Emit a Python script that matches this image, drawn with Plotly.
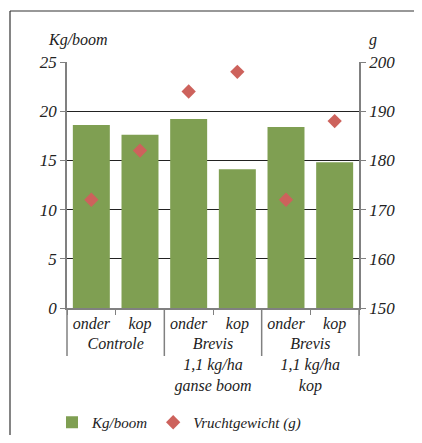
import plotly.graph_objects as go

groups = ["Controle", "Controle",
          "Brevis<br>1,1 kg/ha<br>ganse boom", "Brevis<br>1,1 kg/ha<br>ganse boom",
          "Brevis<br>1,1 kg/ha<br>kop", "Brevis<br>1,1 kg/ha<br>kop"]
parts = ["onder", "kop", "onder", "kop", "onder", "kop"]
kg_boom = [18.6, 17.6, 19.2, 14.1, 18.4, 14.8]
vruchtgewicht = [172, 182, 194, 198, 172, 188]
left_ticks = [0, 5, 10, 15, 20, 25]
right_ticks = [150, 160, 170, 180, 190, 200]

FAM = "Liberation Serif"
TXT = "#222222"
# page has an 8px body margin; work in reference page pixels and shift
OFF = 8
W, H = 422 - 2 * OFF, 443 - 2 * OFF
L, T = 67 - OFF, 62 - OFF
R = W - (359 - OFF)
B = H - (308 - OFF)
pw, ph = W - L - R, H - T - B


def px_x(x):
    return (x - OFF - L) / pw


def px_y(y):
    return (H - B - (y - OFF)) / ph


def it(s):
    return "<i>" + str(s) + "</i>"


fig = go.Figure()
fig.add_trace(go.Bar(
    x=[[it(g) for g in groups], [it(p) for p in parts]], y=kg_boom, name=it("Kg/boom"),
    marker=dict(color="#7F9F52", line=dict(width=0)),
))
fig.add_trace(go.Scatter(
    x=[[it(g) for g in groups], [it(p) for p in parts]], y=vruchtgewicht,
    name=it("Vruchtgewicht (g)"), yaxis="y2",
    mode="markers",
    marker=dict(symbol="diamond", size=11, color="#CD625C", line=dict(width=0)),
))

fig.update_layout(
    width=W, height=H,
    margin=dict(l=L, r=R, t=T, b=B, autoexpand=False),
    paper_bgcolor="white", plot_bgcolor="white",
    font=dict(family=FAM, size=16, color=TXT),
    bargap=0.24,
    showlegend=True,
    legend=dict(orientation="h", x=px_x(52), y=px_y(406), xanchor="left", yanchor="top",
                font=dict(family=FAM, size=15, color=TXT),
                itemwidth=30, traceorder="normal"),
    xaxis=dict(
        type="multicategory",
        showline=True, linecolor="#808080", linewidth=1.5,
        ticks="outside", tickson="boundaries", ticklen=5, tickcolor="#808080",
        showdividers=False,
        showgrid=False,
        tickfont=dict(family=FAM, size=16, color=TXT),
    ),
    yaxis=dict(
        range=[0, 25], tickvals=left_ticks, ticktext=[it(v) for v in left_ticks],
        showline=True, linecolor="#808080", linewidth=1.5,
        ticks="outside", ticklen=5, tickcolor="#808080",
        showgrid=True, gridcolor="#222222", gridwidth=1,
        zeroline=False,
        tickfont=dict(family=FAM, size=17, color=TXT),
    ),
    yaxis2=dict(
        range=[150, 200], tickvals=right_ticks, ticktext=[it(v) for v in right_ticks],
        overlaying="y", side="right",
        showline=True, linecolor="#808080", linewidth=1.5,
        ticks="outside", ticklen=5, tickcolor="#808080",
        showgrid=False, zeroline=False,
        tickfont=dict(family=FAM, size=17, color=TXT),
    ),
    annotations=[
        dict(text=it("Kg/boom"), xref="paper", yref="paper", x=px_x(78), y=px_y(40),
             showarrow=False, xanchor="center", yanchor="middle",
             font=dict(family=FAM, size=16, color=TXT)),
        dict(text=it("g"), xref="paper", yref="paper", x=px_x(373), y=px_y(40),
             showarrow=False, xanchor="center", yanchor="middle",
             font=dict(family=FAM, size=16, color=TXT)),
    ],
    shapes=[
        dict(type="line", xref="paper", yref="paper", x0=px_x(10), x1=px_x(W + OFF),
             y0=px_y(11), y1=px_y(11), line=dict(color="#333333", width=1.2)),
        dict(type="line", xref="paper", yref="paper", x0=px_x(10), x1=px_x(10),
             y0=px_y(11), y1=px_y(H + OFF), line=dict(color="#333333", width=1.2)),
    ] + [
        dict(type="line", xref="paper", yref="paper", x0=f, x1=f,
             y0=0, y1=px_y(356), line=dict(color="#808080", width=1.5))
        for f in (0, 1 / 3, 2 / 3, 1)
    ],
)

fig.write_html("out.html")
